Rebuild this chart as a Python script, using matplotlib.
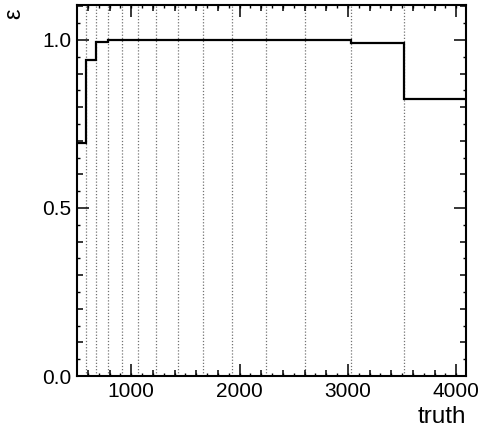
import numpy as np
import matplotlib
matplotlib.use("Agg")
from matplotlib import pyplot as plt
from matplotlib.ticker import MultipleLocator, FormatStrFormatter

plt.rcParams['font.family'] = ['Liberation Sans', 'DejaVu Sans']

# bin edges of the truth variable and the efficiency per bin
edges = [500, 581, 675, 785, 912, 1059, 1232, 1431, 1663, 1932, 2245, 2607, 3030, 3520, 4090]
eff = [0.694, 0.941, 0.995, 1.0, 1.0, 1.0, 1.0, 1.0, 1.0, 1.0, 1.0, 1.0, 0.992, 0.823]

x_range = (500, 4090)
y_range = (0.0, 1.104)

fig = plt.figure(figsize=(4.9, 4.33), dpi=100)
ax = fig.add_axes([77/490, 1 - 376/433, (466 - 77)/490, (376 - 5)/433])

# dotted lines on the bin edges
for e in edges[1:-1]:
    ax.axvline(e, color='0.45', lw=0.9, ls=(0, (1, 1.5)), zorder=1)

ax.stairs(eff, edges, baseline=None, color='black', lw=1.6, zorder=3)

ax.set_xlim(*x_range)
ax.set_ylim(*y_range)

for s in ax.spines.values():
    s.set_linewidth(1.5)

ax.xaxis.set_major_locator(MultipleLocator(1000))
ax.xaxis.set_minor_locator(MultipleLocator(200))
ax.yaxis.set_major_locator(MultipleLocator(0.5))
ax.yaxis.set_minor_locator(MultipleLocator(0.1))
ax.yaxis.set_major_formatter(FormatStrFormatter('%.1f'))

ax.tick_params(which='both', direction='in', top=True, right=True, labelsize=15, width=1.1)
ax.tick_params(which='major', length=8.5)
ax.tick_params(which='minor', length=4.5)
ax.tick_params(axis='x', pad=4)
ax.tick_params(axis='y', pad=4)

# third level of ticks, like ROOT does
for loc in ['bottom', 'top']:
    sec = ax.secondary_xaxis(loc)
    sec.set_xticks(np.arange(600, 4100, 100))
    sec.tick_params(direction='in', length=2.3, width=1.0, labelbottom=False, labeltop=False)
    for s in sec.spines.values():
        s.set_visible(False)
for loc in ['left', 'right']:
    sec = ax.secondary_yaxis(loc)
    sec.set_yticks(np.arange(0.05, 1.1, 0.1))
    sec.tick_params(direction='in', length=2.3, width=1.0, labelleft=False, labelright=False)
    for s in sec.spines.values():
        s.set_visible(False)

fig.text(466/490, 1 - 423/433, 'truth', ha='right', va='baseline', fontsize=17.5)
fig.text(14/490, 1 - 14/433, 'ε', rotation=90, ha='center', va='center', fontsize=17)

fig.savefig('out.png', dpi=100)
